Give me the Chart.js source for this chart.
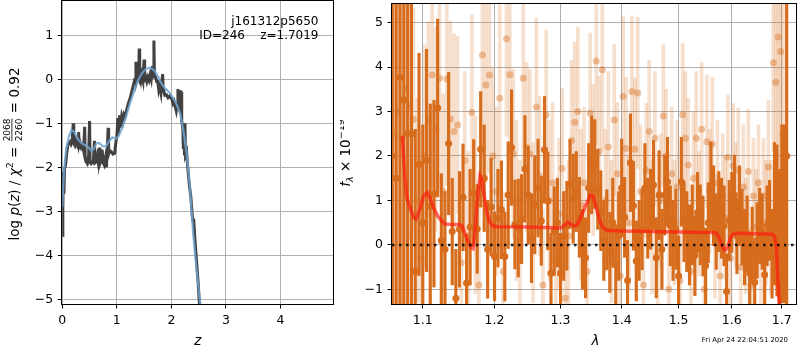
<!DOCTYPE html>
<html lang="en">

<head>
    <meta charset="UTF-8">
    <title>j161312p5650 | p(z) e espectro</title>
    <style>
        body { margin: 0; background: #fff; }
        .box { position: absolute; top: 0; }
        #pzBox { left: 0; width: 340px; height: 350px; }
        #specBox { left: 340px; width: 460px; height: 350px; }
    </style>
</head>

<body>
    <div class="box" id="pzBox"><canvas id="pzChart" width="340" height="350"></canvas></div>
    <div class="box" id="specBox"><canvas id="specChart" width="460" height="350"></canvas></div>

    <script src="https://cdn.jsdelivr.net/npm/chart.js@4.4.9/dist/chart.umd.min.js"></script>
    <script>
    // ---- left panel: log p(z) ----
    const zFit = [0.00, 0.01, 0.02, 0.03, 0.04, 0.06, 0.08, 0.10, 0.12, 0.14, 0.16, 0.18, 0.20, 0.21, 0.23, 0.25, 0.27, 0.29, 0.30, 0.31,
        0.33, 0.35, 0.37, 0.39, 0.41, 0.42, 0.44, 0.46, 0.48, 0.50, 0.51, 0.53, 0.55, 0.57, 0.59, 0.60, 0.62, 0.64, 0.66, 0.68,
        0.69, 0.71, 0.73, 0.75, 0.77, 0.79, 0.81, 0.83, 0.84, 0.85, 0.87, 0.90, 0.93, 0.96, 0.98, 1.00, 1.02, 1.03, 1.05, 1.07,
        1.09, 1.11, 1.13, 1.15, 1.18, 1.21, 1.24, 1.27, 1.30, 1.32, 1.34, 1.35, 1.36, 1.38, 1.40, 1.41, 1.42, 1.44, 1.46, 1.48,
        1.50, 1.51, 1.53, 1.55, 1.57, 1.59, 1.61, 1.63, 1.65, 1.67, 1.68, 1.69, 1.71, 1.73, 1.75, 1.77, 1.79, 1.81, 1.84, 1.85,
        1.88, 1.91, 1.94, 1.97, 1.99, 2.01, 2.03, 2.05, 2.07, 2.09, 2.11, 2.12, 2.13, 2.14, 2.15, 2.16, 2.17, 2.18, 2.19, 2.21,
        2.22, 2.23, 2.24, 2.25, 2.26, 2.28, 2.30, 2.33, 2.36, 2.39, 2.41, 2.43, 2.46, 2.49, 2.52];
    const logpFit = [-3.55, -2.9, -2.1, -2.6, -2.05, -1.95, -1.7, -1.5, -1.45, -1.42, -1.48, -1.42, -1.0, -1.45, -1.5, -1.4, -1.48, -1.55, -1.2, -1.52,
        -1.45, -1.55, -1.5, -1.62, -1.08, -1.75, -1.88, -1.92, -1.85, -0.95, -1.88, -1.92, -1.9, -1.85, -1.4, -1.9, -1.88, -1.75, -1.9, -1.55,
        -1.92, -1.85, -1.6, -1.9, -1.95, -1.8, -2.0, -1.45, -1.1, -1.7, -1.62, -1.65, -1.7, -1.68, -1.45, -1.3, -0.88, -1.25, -0.82, -1.1,
        -0.85, -0.95, -0.8, -0.85, -0.7, -0.55, -0.45, -0.3, -0.15, -0.05, -0.1, 0.4, -0.05, 0.05, 0.0, 0.7, 0.05, -0.05, 0.1, -0.02,
        0.45, 0.0, 0.05, -0.05, 0.05, -0.02, 0.1, 0.0, 0.3, 0.05, 0.88, 0.1, 0.05, -0.05, -0.05, -0.25, -0.15, -0.3, 0.12, -0.2,
        -0.36, -0.35, -0.42, -0.38, -0.42, -0.45, -0.55, -0.5, -0.62, -0.72, -0.55, -0.22, -0.65, -0.25, -0.72, -0.25, -0.8, -0.28, -0.95, -1.1,
        -1.55, -1.2, -1.7, -1.0, -1.72, -1.65, -2.0, -2.4, -2.7, -3.2, -3.2, -3.6, -4.1, -4.6, -5.2];

    const zSmooth = [0.00, 0.03, 0.07, 0.12, 0.17, 0.22, 0.28, 0.35, 0.42, 0.48, 0.53, 0.58, 0.63, 0.68, 0.74, 0.80, 0.86, 0.92, 0.98, 1.03,
        1.10, 1.17, 1.24, 1.31, 1.38, 1.45, 1.52, 1.58, 1.64, 1.70, 1.76, 1.82, 1.88, 1.95, 2.02, 2.09, 2.16, 2.22, 2.28, 2.34,
        2.40, 2.46, 2.53, 2.56];
    const logpSmooth = [-2.9, -2.1, -1.6, -1.3, -1.15, -1.2, -1.35, -1.45, -1.5, -1.55, -1.62, -1.58, -1.45, -1.45, -1.52, -1.53, -1.4, -1.32, -1.35, -1.3,
        -1.1, -0.85, -0.55, -0.3, -0.05, 0.12, 0.22, 0.26, 0.25, 0.18, 0.05, -0.1, -0.2, -0.28, -0.4, -0.55, -0.77, -1.15, -1.68, -2.44,
        -3.5, -4.3, -5.1, -5.5];

    const zTicks = [0, 1, 2, 3, 4];
    const logpTicks = [-5, -4, -3, -2, -1, 0, 1];
    const zRange = [0, 4.97];
    const logpRange = [-5.107, 1.78];

    // ---- right panel: spectrum ----
    const lamDark = [1.060, 1.065, 1.070, 1.075, 1.080, 1.085, 1.090, 1.095, 1.100, 1.105,
        1.110, 1.115, 1.120, 1.125, 1.130, 1.135, 1.140, 1.145, 1.150, 1.155,
        1.160, 1.165, 1.170, 1.175, 1.180, 1.185, 1.190, 1.195, 1.200, 1.205,
        1.210, 1.215, 1.220, 1.225, 1.230, 1.235, 1.240, 1.245, 1.250, 1.255,
        1.260, 1.265, 1.270, 1.275, 1.280, 1.285, 1.290, 1.295, 1.300, 1.305,
        1.310, 1.315, 1.320, 1.325, 1.330, 1.335, 1.340, 1.345, 1.350, 1.355,
        1.360, 1.365, 1.370, 1.375, 1.380, 1.385, 1.390, 1.395, 1.400, 1.405,
        1.410, 1.415, 1.420, 1.425, 1.430, 1.435, 1.440, 1.445, 1.450, 1.455,
        1.460, 1.465, 1.470, 1.475, 1.480, 1.485, 1.490, 1.495, 1.500, 1.505,
        1.510, 1.515, 1.520, 1.525, 1.530, 1.535, 1.540, 1.545, 1.550, 1.555,
        1.560, 1.565, 1.570, 1.575, 1.580, 1.585, 1.590, 1.595, 1.600, 1.605,
        1.610, 1.615, 1.620, 1.625, 1.630, 1.635, 1.640, 1.645, 1.650, 1.655,
        1.660, 1.665, 1.670, 1.675, 1.680, 1.685, 1.690, 1.695, 1.700, 1.705,
        1.710];
    const fluxDark = [2.0, 1.5, 3.77, 3.26, 2.5, 2.5, -0.6, 1.81, 0.5, 1.9,
        0.87, 1.15, 3.08, 0.1, -0.1, 2.28, 0.3, -1.2, 0.35, 1.07,
        -0.86, 0.4, 1.17, 0.36, 2.15, 1.5, -0.1, 0.85, -0.26, 0.6,
        0.79, -0.26, 1.12, 2.19, 0.46, 0.38, 0.58, 1.71, 1.12, 0.15,
        0.9, 1.28, 0.54, 2.14, 0.99, -0.64, 0.31, 0.5, -0.64, 0.2,
        0.43, 1.37, 1.04, 1.2, 0.62, -0.1, -0.29, 1.28, 1.8, 1.82,
        1.25, 0.77, 0.1, 0.34, -0.17, 0.5, -0.45, 0.2, 1.28, 0.62,
        -0.8, 1.85, 0.88, -0.36, 0.1, 0.34, 1.28, 0.6, 0.8, 1.35,
        -0.29, 1.12, -0.1, 1.12, 1.42, 0.43, 0.1, 0.35, -0.7, 1.42,
        0.52, 0.3, 0.0, 0.45, -0.24, 0.73, 0.45, 0.2, -0.47, 0.5,
        1.31, 0.88, 0.3, 0.75, 0.6, 0.43, -1.05, 0.55, 0.73, 1.12,
        0.2, 0.88, 0.4, -0.05, 0.25, -0.64, 0.0, -0.84, 0.1, 0.43,
        0.3, -0.67, 0.43, 0.55, -0.2, 0.7, 0.55, -0.1, 0.7, 0.7,
        2.0];
    const errDark = [9, 9, 8, 7, 6, 5.5, 3.2, 2.5, 2.2, 2.5,
        2.3, 2.1, 2.0, 1.5, 1.3, 1.6, 1.2, 1.1, 1.3, 1.2,
        1.1, 1.3, 1.2, 1.0, 1.3, 1.2, 1.1, 1.1, 1.0, 1.1,
        1.1, 1.0, 1.2, 1.3, 1.0, 1.1, 1.0, 1.2, 1.1, 1.0,
        1.1, 1.1, 1.0, 1.2, 1.1, 0.9, 1.0, 1.0, 0.9, 1.0,
        1.0, 1.0, 1.0, 0.9, 0.9, 0.9, 0.9, 1.0, 1.1, 1.0,
        0.9, 0.9, 0.9, 0.9, 0.9, 1.0, 0.9, 1.0, 1.1, 0.9,
        0.9, 1.1, 1.0, 0.9, 0.9, 0.9, 1.0, 0.9, 0.9, 1.0,
        0.9, 1.0, 0.9, 0.9, 1.0, 0.9, 0.9, 0.9, 0.9, 1.0,
        0.9, 0.9, 0.9, 0.9, 0.9, 0.9, 0.9, 0.9, 0.85, 0.9,
        1.0, 0.9, 0.85, 0.9, 0.9, 0.9, 0.85, 0.9, 0.9, 0.9,
        0.85, 0.9, 0.85, 0.85, 0.85, 0.85, 0.85, 0.85, 0.85, 0.85,
        0.85, 0.9, 0.9, 0.9, 1.0, 1.6, 1.7, 1.8, 2.0, 2.0,
        9];

    const lamLight = [1.0625, 1.0675, 1.0725, 1.0775, 1.0825, 1.0875, 1.0925, 1.0975, 1.1025, 1.1075,
        1.1125, 1.1175, 1.1225, 1.1275, 1.1325, 1.1375, 1.1425, 1.1475, 1.1525, 1.1575,
        1.1625, 1.1675, 1.1725, 1.1775, 1.1825, 1.1875, 1.1925, 1.1975, 1.2025, 1.2075,
        1.2125, 1.2175, 1.2225, 1.2275, 1.2325, 1.2375, 1.2425, 1.2475, 1.2525, 1.2575,
        1.2625, 1.2675, 1.2725, 1.2775, 1.2825, 1.2875, 1.2925, 1.2975, 1.3025, 1.3075,
        1.3125, 1.3175, 1.3225, 1.3275, 1.3325, 1.3375, 1.3425, 1.3475, 1.3525, 1.3575,
        1.3625, 1.3675, 1.3725, 1.3775, 1.3825, 1.3875, 1.3925, 1.3975, 1.4025, 1.4075,
        1.4125, 1.4175, 1.4225, 1.4275, 1.4325, 1.4375, 1.4425, 1.4475, 1.4525, 1.4575,
        1.4625, 1.4675, 1.4725, 1.4775, 1.4825, 1.4875, 1.4925, 1.4975, 1.5025, 1.5075,
        1.5125, 1.5175, 1.5225, 1.5275, 1.5325, 1.5375, 1.5425, 1.5475, 1.5525, 1.5575,
        1.5625, 1.5675, 1.5725, 1.5775, 1.5825, 1.5875, 1.5925, 1.5975, 1.6025, 1.6075,
        1.6125, 1.6175, 1.6225, 1.6275, 1.6325, 1.6375, 1.6425, 1.6475, 1.6525, 1.6575,
        1.6625, 1.6675, 1.6725, 1.6775, 1.6825, 1.6875, 1.6925, 1.6975, 1.7025];
    const fluxLight = [2.5, 3.0, 2.4, 3.52, 3.1, 2.82, 1.0, -0.3, 2.0, 2.82,
        3.82, 2.6, 3.75, 1.2, 3.73, 2.83, 2.55, 2.7, -0.4, 1.9,
        0.2, 2.98, 0.9, -0.9, 4.27, 3.6, 3.82, 2.0, 1.2, 3.3,
        -0.6, 4.64, 3.83, 2.05, 1.0, 0.1, 3.75, 2.2, 2.05, 0.5,
        3.1, 1.55, -0.9, 2.93, 1.0, 1.4, -0.3, 0.7, 1.72, -1.2,
        0.2, 2.35, 2.76, 3.0, 0.9, 1.4, -0.6, 2.97, 1.9, 4.14,
        2.1, 3.94, 1.0, 2.2, 0.3, 2.81, 1.6, -0.7, 3.34, 2.17,
        0.5, 3.45, 2.15, 3.42, 1.2, -0.9, 1.68, 2.55, 0.4, 2.4,
        -0.2, 1.0, 2.9, 2.0, -1.0, 1.6, 0.5, 1.3, -0.8, 2.93,
        2.4, 1.8, -0.6, 1.5, 2.4, 0.7, 2.6, -1.0, 2.32, 1.2,
        2.27, 0.2, 1.4, -0.7, 1.1, 0.6, 1.97, -0.3, 1.78, 0.9,
        1.68, -0.5, 1.3, 0.2, 1.65, -0.9, 1.1, 0.4, 1.4, -0.3,
        1.1, 0.5, 1.75, 0.4, 4.1, 3.66, 4.68, 4.35, 2.5];
    const errLight = [5, 5, 4, 3.5, 3, 2.5, 2.3, 2.2, 2.5, 2.2,
        2.5, 2.3, 2.5, 2.2, 2.4, 2.2, 2.2, 2.0, 2.0, 2.0,
        1.9, 2.2, 2.0, 1.8, 2.3, 2.2, 2.2, 2.0, 1.9, 2.1,
        1.8, 2.2, 2.1, 1.9, 1.8, 1.8, 2.0, 1.9, 1.9, 1.8,
        2.0, 1.8, 1.7, 1.9, 1.8, 1.8, 1.6, 1.7, 1.8, 1.6,
        1.7, 1.8, 1.8, 1.9, 1.7, 1.7, 1.6, 1.8, 1.7, 1.9,
        1.7, 1.8, 1.6, 1.7, 1.6, 1.7, 1.6, 1.5, 1.8, 1.6,
        1.5, 1.7, 1.6, 1.7, 1.5, 1.4, 1.5, 1.6, 1.5, 1.5,
        1.4, 1.5, 1.6, 1.5, 1.4, 1.5, 1.4, 1.5, 1.4, 1.6,
        1.5, 1.5, 1.4, 1.5, 1.5, 1.4, 1.5, 1.3, 1.5, 1.4,
        1.5, 1.4, 1.4, 1.3, 1.4, 1.4, 1.4, 1.3, 1.4, 1.4,
        1.4, 1.3, 1.4, 1.3, 1.4, 1.3, 1.3, 1.3, 1.3, 1.3,
        1.3, 1.4, 1.5, 1.5, 2.0, 2.5, 3.0, 3.5, 4];

    const lamModel = [1.0730, 1.0760, 1.0790, 1.0840, 1.0880, 1.0910, 1.0960, 1.1010, 1.1060, 1.1100,
        1.1150, 1.1200, 1.1250, 1.1300, 1.1400, 1.1500, 1.1540, 1.1580, 1.1620, 1.1660,
        1.1690, 1.1720, 1.1750, 1.1790, 1.1820, 1.1850, 1.1880, 1.1920, 1.1970, 1.2050,
        1.2500, 1.3000, 1.3060, 1.3120, 1.3170, 1.3220, 1.3260, 1.3300, 1.3400, 1.3480,
        1.3520, 1.3570, 1.3630, 1.3690, 1.3750, 1.4000, 1.5000, 1.5600, 1.5700, 1.5760,
        1.5820, 1.5870, 1.5920, 1.5970, 1.6020, 1.6100, 1.6500, 1.6800, 1.6850, 1.6890,
        1.6920, 1.6960];
    const fluxModel = [2.45, 1.6, 1.05, 0.8, 0.62, 0.58, 0.8, 1.1, 1.18, 1.05,
        0.82, 0.65, 0.55, 0.47, 0.46, 0.46, 0.42, 0.25, 0.08, -0.05,
        -0.08, 0.3, 1.0, 1.55, 1.45, 1.1, 0.8, 0.55, 0.43, 0.41,
        0.40, 0.38, 0.44, 0.51, 0.46, 0.42, 0.45, 0.55, 0.88, 1.12,
        1.1, 0.85, 0.55, 0.38, 0.33, 0.31, 0.29, 0.28, 0.27, 0.15,
        -0.05, -0.12, -0.05, 0.15, 0.24, 0.26, 0.25, 0.24, 0.18, -0.05,
        -0.8, -1.6];

    const lamTicks = [1.1, 1.2, 1.3, 1.4, 1.5, 1.6, 1.7];
    const fluxTicks = [-1, 0, 1, 2, 3, 4, 5];
    const lamRange = [1.0597, 1.7295];
    const fluxRange = [-1.33, 5.42];

    const FONT = 'DejaVu Sans';
    const ORANGE = 'rgb(214, 108, 28)';

    function fmt(v) {
        return v < 0 ? '\u2212' + Math.abs(v) : String(v);
    }

    // error bar span, kept inside the plotted range
    function errSpan(v, e) {
        return [Math.max(v - e, fluxRange[0]), Math.min(v + e, fluxRange[1])];
    }

    // draws a line of text built from pieces (sub/superscripts, a small fraction)
    function drawRich(ctx, x, y, angle, parts) {
        ctx.save();
        ctx.translate(x, y);
        ctx.rotate(angle);
        let total = 0;
        parts.forEach(p => {
            ctx.font = (p.italic ? 'italic ' : '') + p.size + 'px "' + FONT + '"';
            if (p.frac) {
                p.w = Math.max(ctx.measureText(p.frac[0]).width, ctx.measureText(p.frac[1]).width) + 2;
            } else {
                p.w = ctx.measureText(p.t).width;
            }
            total += p.w;
        });
        let cx = -total / 2;
        ctx.fillStyle = '#000';
        ctx.textBaseline = 'alphabetic';
        parts.forEach(p => {
            ctx.font = (p.italic ? 'italic ' : '') + p.size + 'px "' + FONT + '"';
            if (p.frac) {
                ctx.textAlign = 'center';
                ctx.fillText(p.frac[0], cx + p.w / 2, -9);
                ctx.fillText(p.frac[1], cx + p.w / 2, 2.5);
                ctx.fillRect(cx + 1, -7.5, p.w - 2, 0.8);
                ctx.textAlign = 'left';
            } else {
                ctx.textAlign = 'left';
                ctx.fillText(p.t, cx, p.dy || 0);
            }
            cx += p.w;
        });
        ctx.restore();
    }

    const frame = {
        id: 'frame',
        afterDraw(chart, args, opts) {
            const { ctx, chartArea: a } = chart;
            ctx.save();
            ctx.strokeStyle = '#000';
            ctx.lineWidth = 1;
            ctx.strokeRect(Math.round(a.left) - 0.5, Math.round(a.top) - 0.5,
                Math.round(a.right) - Math.round(a.left) + 1, Math.round(a.bottom) - Math.round(a.top) + 1);
            ctx.restore();
            (opts.labels || []).forEach(l => drawRich(ctx, l.x, l.y, l.angle || 0, l.parts));
            (opts.notes || []).forEach(n => {
                ctx.save();
                ctx.font = n.size + 'px "' + FONT + '"';
                ctx.fillStyle = '#000';
                ctx.textAlign = 'right';
                ctx.textBaseline = 'alphabetic';
                ctx.fillText(n.t, n.x, n.y);
                ctx.restore();
            });
        }
    };

    function axisBase(ticks, range, size) {
        return {
            min: range[0],
            max: range[1],
            offset: false,
            afterBuildTicks: s => { s.ticks = ticks.map(v => ({ value: v })); },
            ticks: {
                color: '#000',
                font: { family: FONT, size: 12.5 },
                padding: 4.5,
                autoSkip: false,
                maxRotation: 0,
                callback: v => fmt(v)
            },
            grid: { color: '#b0b0b0', lineWidth: 1, tickColor: '#000', tickLength: 4.5, drawTicks: true, offset: false },
            border: { display: false },
            afterFit: s => {
                if (s.isHorizontal()) s.height = size; else s.width = size;
                s.paddingTop = 0; s.paddingBottom = 0; s.paddingLeft = 0; s.paddingRight = 0;
            }
        };
    }

    // ---- left chart ----
    const pzX = axisBase(zTicks, zRange, 46);
    pzX.type = 'linear';
    const pzY = axisBase(logpTicks, logpRange, 62.3);
    pzY.type = 'linear';

    new Chart(document.getElementById('pzChart'), {
        type: 'scatter',
        data: {
            datasets: [{
                data: zSmooth.map((z, i) => ({ x: z, y: logpSmooth[i] })),
                showLine: true,
                borderColor: 'rgba(110, 165, 210, 0.85)',
                borderWidth: 2.2,
                pointRadius: 0,
                tension: 0,
                clip: 0
            }, {
                data: zFit.map((z, i) => ({ x: z, y: logpFit[i] })),
                showLine: true,
                borderColor: 'rgba(45, 45, 45, 0.9)',
                borderWidth: 3,
                pointRadius: 0,
                tension: 0,
                clip: 0
            }]
        },
        options: {
            responsive: false,
            animation: false,
            events: [],
            layout: { padding: { top: 1, right: 6.7, left: 0, bottom: 0 } },
            scales: { x: pzX, y: pzY },
            plugins: {
                legend: { display: false },
                tooltip: { enabled: false },
                frame: {
                    labels: [{
                        x: 19, y: 154, angle: -Math.PI / 2,
                        parts: [
                            { t: 'log ', size: 13.5 },
                            { t: 'p', size: 13.5, italic: true },
                            { t: '(', size: 13.5 },
                            { t: 'z', size: 13.5, italic: true },
                            { t: ') / ', size: 13.5 },
                            { t: '\u03c7', size: 13.5, italic: true },
                            { t: '2', size: 9.5, dy: -6 },
                            { t: ' = ', size: 13.5 },
                            { frac: ['2068', '2260'], size: 9 },
                            { t: ' = 0.92', size: 13.5 }
                        ]
                    }, {
                        x: 197.7, y: 345, parts: [{ t: 'z', size: 13.5, italic: true }]
                    }],
                    notes: [
                        { t: 'j161312p5650', x: 318.5, y: 25, size: 12 },
                        { t: 'ID=246    z=1.7019', x: 318.5, y: 38.5, size: 12 }
                    ]
                }
            }
        },
        plugins: [frame]
    });

    // ---- right chart ----
    const spX = axisBase(lamTicks, lamRange, 46);
    spX.type = 'logarithmic';
    spX.ticks.callback = v => v.toFixed(1);
    const spY = axisBase(fluxTicks, fluxRange, 52);
    spY.type = 'linear';

    const zeroLine = [lamRange[0], lamRange[1]];

    new Chart(document.getElementById('specChart'), {
        type: 'scatter',
        data: {
            datasets: [{
                type: 'line',
                data: zeroLine.map(l => ({ x: l, y: 0 })),
                borderColor: 'rgba(0, 0, 0, 0.85)',
                borderWidth: 2.5,
                borderDash: [2.5, 4.5],
                pointRadius: 0,
                order: 0,
                clip: 0
            }, {
                type: 'line',
                data: lamModel.map((l, i) => ({ x: l, y: fluxModel[i] })),
                borderColor: 'rgba(255, 25, 15, 0.65)',
                borderWidth: 3.5,
                pointRadius: 0,
                tension: 0,
                order: 1,
                clip: 0
            }, {
                data: lamDark.map((l, i) => ({ x: l, y: fluxDark[i] })),
                pointRadius: 3.5,
                pointBackgroundColor: ORANGE,
                pointBorderWidth: 0,
                order: 2,
                clip: 0
            }, {
                type: 'bar',
                data: lamDark.map((l, i) => ({ x: l, y: errSpan(fluxDark[i], errDark[i]) })),
                backgroundColor: ORANGE,
                barThickness: 2.5,
                grouped: false,
                borderWidth: 0,
                order: 3,
                clip: 0
            }, {
                data: lamLight.map((l, i) => ({ x: l, y: fluxLight[i] })),
                pointRadius: 3.5,
                pointBackgroundColor: 'rgba(214, 108, 28, 0.4)',
                pointBorderWidth: 0,
                order: 4,
                clip: 0
            }, {
                type: 'bar',
                data: lamLight.map((l, i) => ({ x: l, y: errSpan(fluxLight[i], errLight[i]) })),
                backgroundColor: 'rgba(214, 108, 28, 0.22)',
                barThickness: 3,
                grouped: false,
                borderWidth: 0,
                order: 5,
                clip: 0
            }]
        },
        options: {
            responsive: false,
            animation: false,
            events: [],
            layout: { padding: { top: 1, right: 1, left: 0, bottom: 0 } },
            scales: { x: spX, y: spY },
            plugins: {
                legend: { display: false },
                tooltip: { enabled: false },
                frame: {
                    labels: [{
                        x: 10, y: 153, angle: -Math.PI / 2,
                        parts: [
                            { t: 'f', size: 13.5, italic: true },
                            { t: '\u03bb', size: 9.5, italic: true, dy: 3 },
                            { t: ' \u00d7 10', size: 13.5 },
                            { t: '\u221219', size: 9.5, dy: -6 }
                        ]
                    }, {
                        x: 255.5, y: 345, parts: [{ t: '\u03bb', size: 13.5, italic: true }]
                    }],
                    notes: [
                        { t: 'Fri Apr 24 22:04:51 2020', x: 448, y: 342, size: 6.9 }
                    ]
                }
            }
        },
        plugins: [frame]
    });
    </script>
</body>

</html>
